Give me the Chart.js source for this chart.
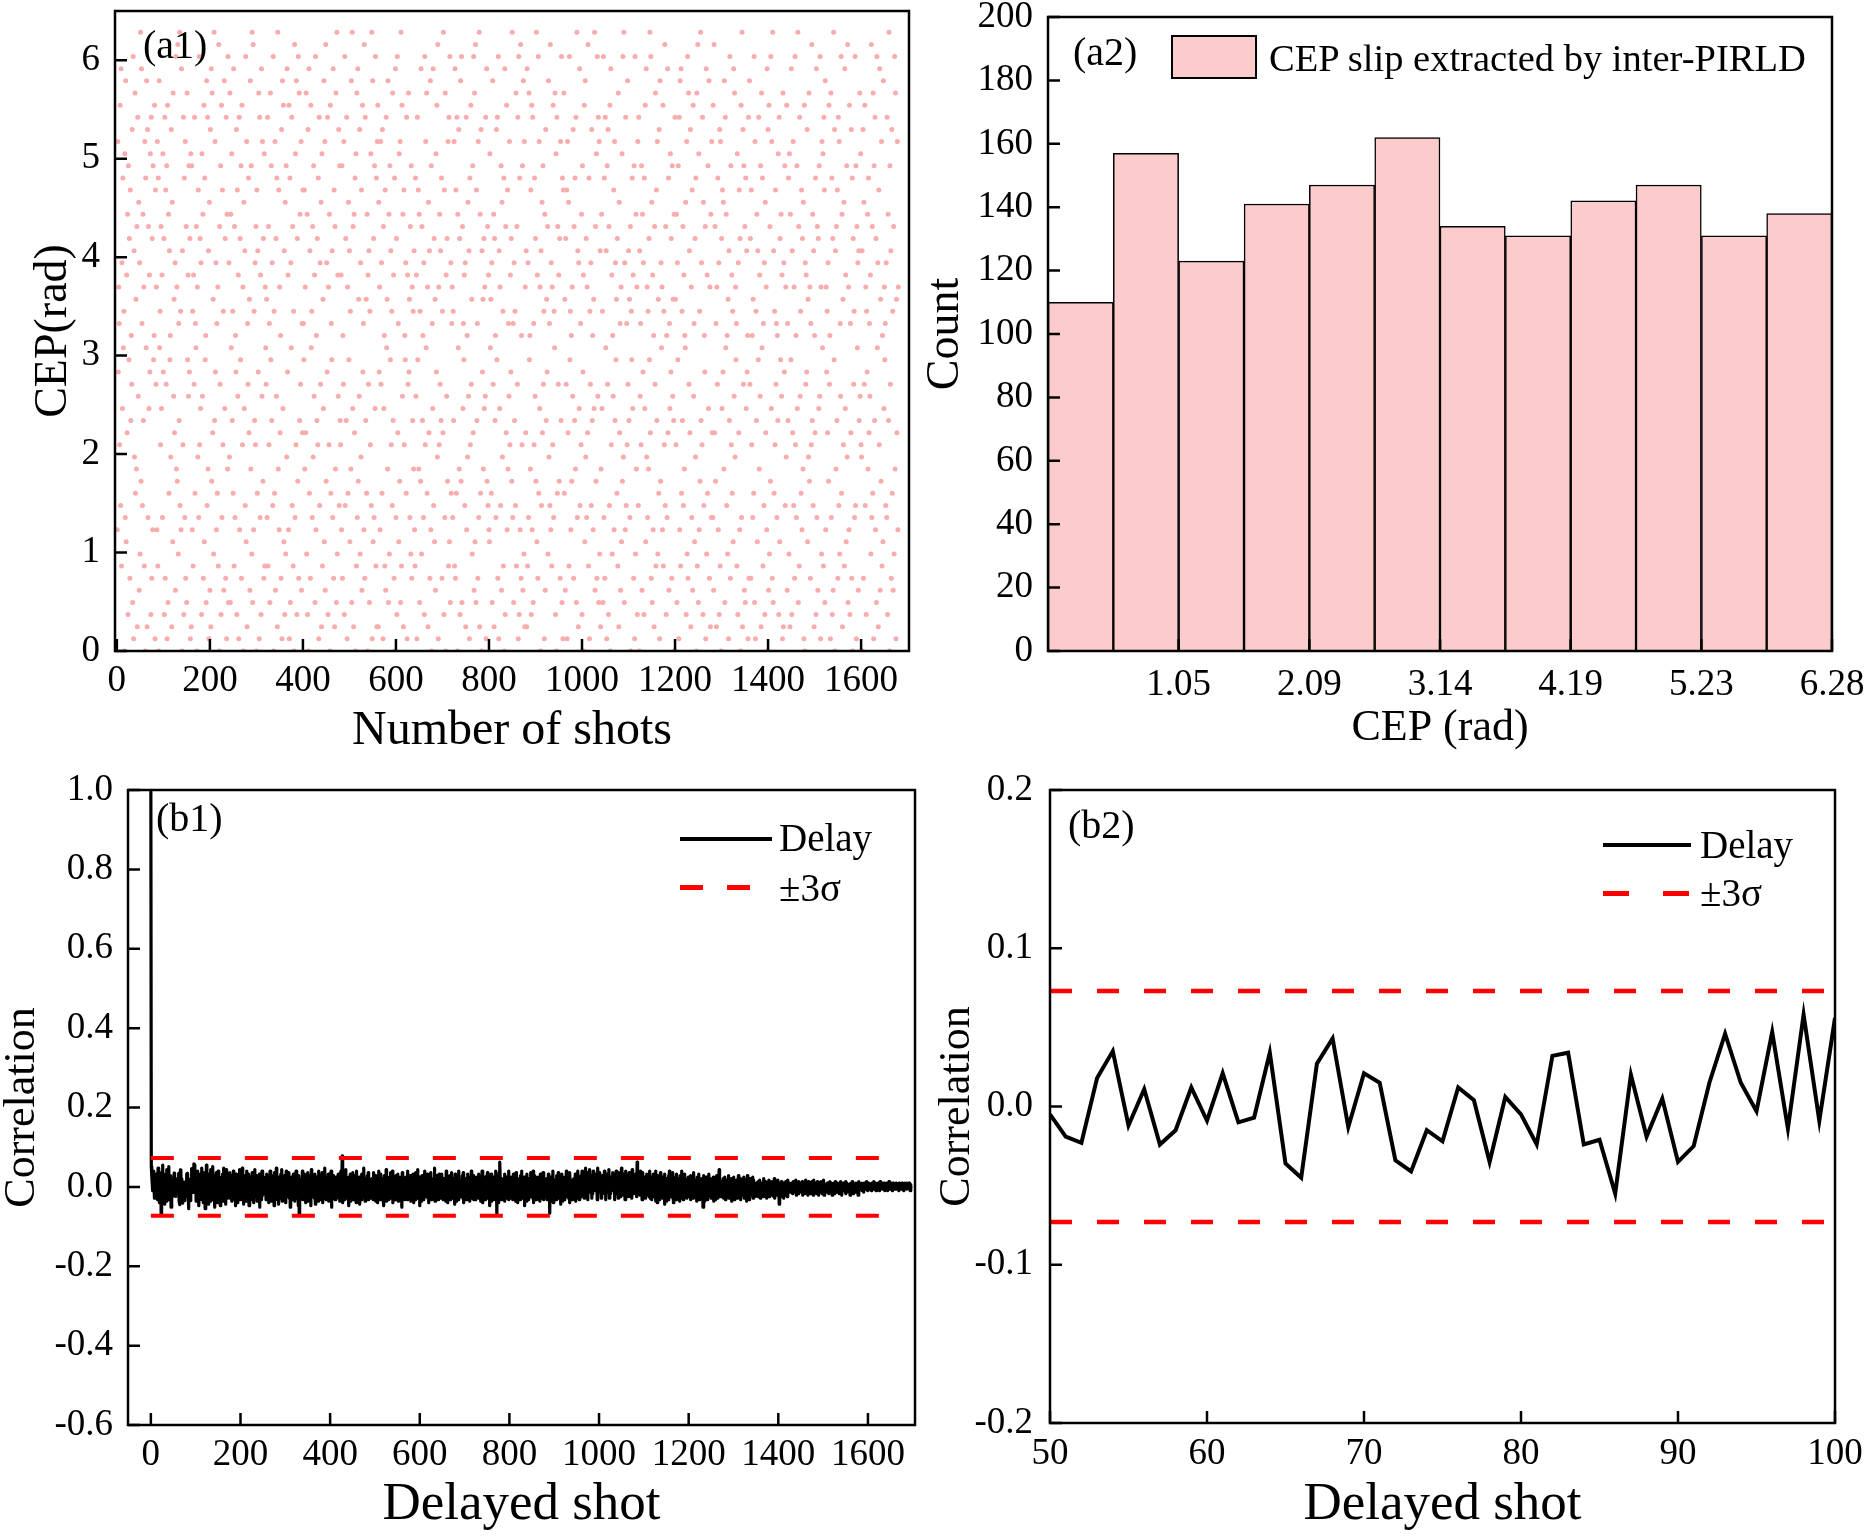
<!DOCTYPE html>
<html>
<head>
<meta charset="utf-8">
<title>CEP slip and correlation</title>
<script src="https://cdn.jsdelivr.net/npm/chart.js@4.4.1/dist/chart.umd.min.js"></script>
<style>
  html, body { margin: 0; padding: 0; background: #fff; }
  #page { position: relative; width: 1867px; height: 1537px; overflow: hidden;
          font-family: "Liberation Serif", "Times New Roman", serif; color: #000; }
  #page canvas { position: absolute; }
  .txt { position: absolute; line-height: 1; white-space: nowrap; }
  .panel { font-size: 40px; }
  .leg { font-size: 39px; }
  .seg { position: absolute; }
</style>
</head>
<body>
<div id="page">
  <canvas id="cA1" width="933" height="770" style="left:0;top:0;width:933px;height:770px"></canvas>
  <canvas id="cA2" width="987" height="770" style="left:880px;top:0;width:987px;height:770px"></canvas>
  <canvas id="cB1" width="933" height="767" style="left:0;top:770px;width:933px;height:767px"></canvas>
  <canvas id="cB2" width="987" height="767" style="left:880px;top:770px;width:987px;height:767px"></canvas>

  <div class="txt panel" style="left:143px;top:25px">(a1)</div>
  <div class="txt panel" style="left:1073px;top:32px">(a2)</div>
  <div class="txt panel" style="left:156px;top:798px">(b1)</div>
  <div class="txt panel" style="left:1068px;top:805px">(b2)</div>

  <!-- a2 legend -->
  <div class="seg" style="left:1171px;top:35px;width:86px;height:44px;box-sizing:border-box;border:2px solid #000;background:#fccccc"></div>
  <div class="txt" style="left:1269px;top:39px;font-size:38.5px">CEP slip extracted by inter-PIRLD</div>

  <!-- b1 legend -->
  <div class="seg" style="left:680px;top:837px;width:92px;height:4px;background:#000"></div>
  <div class="txt leg" style="left:779px;top:818px">Delay</div>
  <div class="seg" style="left:680px;top:885px;width:23px;height:4.5px;background:#f00"></div>
  <div class="seg" style="left:727px;top:885px;width:23px;height:4.5px;background:#f00"></div>
  <div class="txt leg" style="left:779px;top:868px">±3σ</div>

  <!-- b2 legend -->
  <div class="seg" style="left:1603px;top:843px;width:88px;height:4px;background:#000"></div>
  <div class="txt leg" style="left:1700px;top:825px">Delay</div>
  <div class="seg" style="left:1603px;top:891px;width:26px;height:4.5px;background:#f00"></div>
  <div class="seg" style="left:1663px;top:891px;width:26px;height:4.5px;background:#f00"></div>
  <div class="txt leg" style="left:1700px;top:873px">±3σ</div>
</div>

<script>
// letter codes: A..Z = 0..25, a..z = 26..51
const LETTERS = 'ABCDEFGHIJKLMNOPQRSTUVWXYZabcdefghijklmnopqrstuvwxyz';

// (a1) CEP of each shot, one letter per shot, 0.1232 rad per letter step
const cepStep = 0.1232;
const cepCodes = [
  'KqXebRtMwHgUnZcApLvJfSkDoYiGmTaWrExBhQuNdPjCsVlFgIzOwbMkTeHqAnZvCrLjUfXpDsGiKoYa',
  'tBmWeKqHnAvZcRjUfLpXiDsGmWoBtEkNhYaQrClJuVdSgFxPeOyIbTzMcKwAhRsDnLqGjEuYfVoXiBpC',
  'oKcHfWsNbZjAeQmLxRiUgDpVkGtJnYaEvMsPhBlFrCwOuSdIzTqXgKbNeHyAjWoDtLmRcFvUiGsBkPxE',
  'gQuEkZpTcNwHjLaXrDmVfBsKiYoGtReAlUhMxJqCbWnSdFvPoIzEyKcTgRjAmNhXuBsLfDwVqOiGpHeZ',
  'WdLsHjRbEuYoTgMxAcNqFiVnCzPmKeSaGrBvUtJhDlIoQwXfKtBnEgZsMjHcAyLpRvDiOxGuTkWqFbSm',
  'bYmPeSuIkDrAwNhGtZcLjQoVfExKaTiRnBsMgWlCpHdUvJqFyOgXsDeRkAtNbYhLwGmCjPuEzIfVrMoT',
  'RfKoGaWqDxMiTsBeNlYhJcPvEzUjCkSnApHuLwOdVrIgQmFtXbKyGsTdNkAfWhEcRpMzBvJiLoUxHnCq',
  'tClXeKqWgNrBjUaHmFsZdPvEkIoYhRcMuTfGnAwLiDxSbJpOqEzHtVkCmRaYgNsBfWuXdLjIoGeTcPhK',
  'HnVfBsYmPkEcOwIjTaLgDxRqZuNeClShGvKoAbUwMiJdFpXtQyBeRkWhTnGcSzDmLuAfViOqHsJxEgNb',
  'eLcTqHwGmNsAkZrPiDvOxEjUbYfMgCsKaQlVhBnRtWdIoSxFuJyEmTbGqLzCkNrAhXdPiUeVsBwOjMfK',
  'JpZdNgEvWkCiTaLrYsGxBhUeMoFlQcHnAwDjStKmPbVqRfXiOzLbEgTcMuHjWsBxDnKyGaRoFvIqCeSh',
  'CwHgLuYaPmDtKsEbRnViOzJfGxNqUeAhMlSoWcBkFrTdXjIvQbMyKgHeRtLcZuDpAsNjWfOiGqTxEnBm',
  'uNdFiWmBqSlHxYcKaOeVrGjTnPsEzLhCgUwMbRkDoXfAtJvQiLeSyHnBcWgMrTaKdUzFjOpGxVsEqIhC',
  'PkUcExLnGsZhBoWrDjMtAwRfIaVmKqTgYdNiHuClSbFeJpOxQzEgKsMbRvWhTdLjAcYnUfGoBxIkPeDq',
  'MsAhVbRoFkXgDnUtJwQeLcPiYzSxGlEfKaCjWuHmTqIdNrBvOgZeKtHcRyMjDaLwSnFbUpXiGoVdTkAs',
  'dRkEgYoBsKvHwNcTjMfPaZlDqIxGuWhSrCeLmFtVbJiQnAuHyEpKcOzTgRsDlMaXjBwIfNoUvGeCkLqS',
  'LtFySjObCeWnKgDrHqAiUmXlPvEsZkMaIdBhTxGoRfNcJwVuQeYbHpDgSmKiAtLzCrWoFjEnUhXaBsGv',
  'WiGmRaLdNxEqBcTkJhYsPfVoCuZnHbMgDlSeKwArFtIjOxUqGzEhNcRmWbLaTpDsJiYkVfBuCgXoMeQt',
  'FbTnIpCkYwDhSqMeGxRaLoUzEjHsVcNmKiPlBtAgWfXrJdQuOeGbRyTkMhCaSnDwLjFiUoVxBeIqZpHs',
  'mEvKeXcSgOtWaBuLnDiFzYrAhPjTmGsMqIbVxNkCdRlHwUfJoQyEeKtDbSrGnAiWcLxMoBjZgFhTuVpR',
  'QhArGlWtMeDcXkPnSbVfIyLjNuBoTsKiExZgCmRwFdOqHaJvUeYbMgLsDkTzAoWhGrNcFjIxPuBdSqKe'
];
const a1XTicks = [0, 200, 400, 600, 800, 1000, 1200, 1400, 1600];
const a1YTicks = [0, 1, 2, 3, 4, 5, 6];

// (a2) histogram, 12 bins of pi/6
const binCenters = [0.262, 0.785, 1.309, 1.833, 2.356, 2.880, 3.403, 3.927, 4.451, 4.974, 5.498, 6.021];
const binCounts = [110, 157, 123, 141, 147, 162, 134, 131, 142, 147, 131, 138];
const a2TickValues = [1.047, 2.094, 3.142, 4.189, 5.236, 6.283];
const a2TickLabels = ['1.05', '2.09', '3.14', '4.19', '5.23', '6.28'];
const a2YTicks = [0, 20, 40, 60, 80, 100, 120, 140, 160, 180, 200];

// (b2) correlation for delays 50..100
const b2Start = 50;
const b2Corr = [-0.005, -0.019, -0.023, 0.018, 0.035, -0.012, 0.011, -0.024, -0.015, 0.012,
  -0.009, 0.021, -0.010, -0.007, 0.034, -0.036, -0.045, 0.027, 0.043, -0.013,
  0.021, 0.015, -0.034, -0.041, -0.015, -0.022, 0.012, 0.004, -0.035, 0.006,
  -0.005, -0.024, 0.032, 0.034, -0.024, -0.021, -0.055, 0.020, -0.019, 0.005,
  -0.035, -0.025, 0.015, 0.046, 0.015, -0.003, 0.047, -0.014, 0.058, -0.009, 0.056];
const b2XTicks = [50, 60, 70, 80, 90, 100];
const b2YTicks = [-0.2, -0.1, 0, 0.1, 0.2];

// (b1) correlation, delay 0 is 1.0; other delays as letter codes around zero
const corrZero = 1.0;
const corrStep = 0.0038;
const corrMid = 25.5;
const corrEarlyCodes = 'nhcXkaeSgbWiTbRmYaPjUdHfVoXbSgOiWcQlZeTnRaYhMdU';
const corrLateCodes = [
  'WgQbXkSeNhZiTcRmYaPjUdLfVoXbSgOiWcQlZeTnRaYhMdUjSbPkXfVeNcZgRiQmTaWdOlYbShUeXj',
  'SdYhQbWkRfTaNiXcPgZeUlRbVjSmYdOhTaWfQkXcSiNbZgUeRjVaPdYlTcXhQbSfWiMeZaRkUdYgVb',
  'XeRiTaWgPcYkSbQhUfZdNjVaRmXcTgOeWbSiYlQdUaRhXfPkZbTcVjSeMaYgRdWiUbQfXkSaTeNhHb',
  'WaYfSkRdXiTbPgZcUjQeVhRaNlXdTfWbSiOcYgUeQkZaRhTdXjPbVfSmWcRgYaUiQdXeTkMbZfShVa',
  'RdXgTbWiSaQeYkUcuPhVbRfXlTaSdWgNcYiQeUbZjRaXhTfPkVdSbYgOeWaRiUcXmTdQfZbShVjRaWe',
  'YbSfWdRjTaXhQcVgPeZkUbRiSaXfTdNhWbYlQcUgRaVeXjSbTkPdZfWaRhYcUiQeXbSgTdMjVaYfRc',
  'TgXaRkWdSbYhQfUcZiPaVeRjXbTlSdWgNaYcQhUfRbZkXdTaViSePgWbYjRcUaXfTmQdZhSbWeRiVa',
  'XcSiWaRfTdYbQkUgPeZaVhRcXjSbTfWdOiYaQgUcRkZeXaTbVhSjPdWfYcRaUiXgTbQeZkSdWaRhVf',
  'RaXgTcWiSdYbQfUkPaZeVgRbXhTjScWaNfYiQdUbRgZaXkTeHhScPjWqYbRfUaXdTiQcZgSeWbRkVa',
  'WdSgYaRiTbXcQjUePfZbVaRhXkScTdWgNeYbQiUaRfZcXjTbVdSkPaWhYeRcUgXbTaQiZdSfWjRbVe',
  'TaXfRcWiSbIdYgQaUkPcZeVbRhXaTjSdWfOcYiQbUeRgZaXkTdVhSaPjWbYeRcUfXaTiQgZbSkWdRa',
  'cWhTkYaViSfbmXbejRgdWlcaYhSeVkbcZiXfebRmaWgcjYcSeVhXaZkedRiWfYbclScVgXeajZaehR',
  'eYkVbXhSjaWfcTmZdXiUgbRkaYeWhcTjZbXfdSlaVgYcWiebTqXaZhcUkdYfRjaWbXgcSeZiaUhdTk',
  'SdYgRbWiTaXfQkUcPhZeVbRjXaTgScWdOiYbQfUaRhZkXcTeVbSjPgWaYdRiUcXfTbQhZaSkWeRcVi',
  'UaXeScWgTbYdRhVaZfSjXbTcWeQgYaUiRbXdTfScMhVaQbXgTeRcZiUdWaSfXbTgQcYeRaVhSbXdlT',
  'WbXdTaYfScVgRaZeUbXhSdWaTfQcYbUgRdXaVeSbZhTcWfRaYdUbXgSaVeTcQhZbWdRfXaUcYgSeTb',
  'XaUcYbTdWaVeSbZcUaXfTbWdYaScVbZeTaXcUdWbYaTfScVaZbUeXaOcWbYdTaVcSbZaUdXbTeWaYc',
  'XaWbYcVdZaWbXeUcYaVdZbWaXcYdUbZaVcWeXaYbUdZcWaVbXdYaUeZbWcXaVdYbUaZcWdXbVaYeUb',
  'YaWbXcZaVbYdWaXcUbZaYcVdXbWaZcYbVaXdWbUaZcYbXaVdWcYaZbXaUcWbYdXaVbZaWcYbXaUdWb',
  'ZaYbcXaZbWcaYbZdaXbcZaYbaXcZbaYdbZacXbaZcYbaXdbZacYaZbcXaYbZcaXbZdaYbcZaXbcZaY',
  'aZbcYaZbaXcbZaYbcaZbXacZbaYcZabZcaXbZa'
];
const b1XTicks = [0, 200, 400, 600, 800, 1000, 1200, 1400, 1600];
const b1YTicks = [-0.6, -0.4, -0.2, 0, 0.2, 0.4, 0.6, 0.8, 1.0];

// +/- 3 sigma level and span
const sigma3 = 0.073;
const b1SigmaSpan = [0, 1660];
const b2SigmaSpan = [50, 100];

// ---- decode ----
const cepValues = cepCodes.join('').split('').map(ch => LETTERS.indexOf(ch) * cepStep);
const decodeCorr = s => s.split('').map(ch => (LETTERS.indexOf(ch) - corrMid) * corrStep);
const b1Corr = [corrZero, ...decodeCorr(corrEarlyCodes), ...b2Corr, ...decodeCorr(corrLateCodes.join(''))];

const FONT = '"Liberation Serif", "Times New Roman", serif';
Chart.defaults.font.family = FONT;
Chart.defaults.color = '#000';

// frame round the plot and inward tick marks
const framePlugin = {
  id: 'frame',
  afterDraw(chart) {
    const { ctx, chartArea: a, scales } = chart;
    ctx.save();
    ctx.strokeStyle = '#000';
    ctx.lineWidth = 2.5;
    ctx.strokeRect(a.left, a.top, a.right - a.left, a.bottom - a.top);
    ctx.beginPath();
    scales.x.ticks.forEach(t => {
      const px = scales.x.getPixelForValue(t.value);
      ctx.moveTo(px, a.bottom);
      ctx.lineTo(px, a.bottom - 12);
    });
    scales.y.ticks.forEach(t => {
      const py = scales.y.getPixelForValue(t.value);
      ctx.moveTo(a.left, py);
      ctx.lineTo(a.left + 12, py);
    });
    ctx.stroke();
    ctx.restore();
  }
};

function axis(c, isX, size) {
  return {
    type: 'linear',
    min: c.min,
    max: c.max,
    offset: false,
    grid: { display: false, drawTicks: false },
    border: { display: false },
    afterBuildTicks: s => { s.ticks = c.ticks.map(v => ({ value: v })); },
    afterFit: s => {
      if (isX) { s.height = size; s.paddingLeft = 0; s.paddingRight = 0; }
      else { s.width = size; s.paddingTop = 0; s.paddingBottom = 0; }
    },
    ticks: { padding: c.pad, font: { family: FONT, size: 37 }, color: '#000', callback: c.fmt, maxRotation: 0, autoSkip: false },
    title: {
      display: true, text: c.title, color: '#000',
      font: { family: FONT, size: c.tsize, lineHeight: 1 },
      padding: isX ? { top: 0, bottom: c.tpad } : { top: c.tpad, bottom: 0 }
    }
  };
}

function options(W, H, box, x, y) {
  return {
    responsive: false,
    animation: false,
    events: [],
    layout: { padding: { left: 0, top: box.t, right: W - box.r, bottom: 0 } },
    plugins: { legend: { display: false }, tooltip: { enabled: false } },
    scales: { x: axis(x, true, H - box.b), y: axis(y, false, box.l) }
  };
}

// (a1)
new Chart(document.getElementById('cA1'), {
  type: 'scatter',
  data: {
    datasets: [{
      data: cepValues.map((v, i) => ({ x: i + 1, y: v })),
      pointRadius: 2.5,
      pointBorderWidth: 0,
      pointBackgroundColor: 'rgb(248,172,172)'
    }]
  },
  options: options(933, 770, { l: 115, t: 11, r: 909, b: 651 },
    { min: -4, max: 1703, ticks: a1XTicks, pad: 8, fmt: v => String(v), title: 'Number of shots', tsize: 48, tpad: 15 },
    { min: 0, max: 6.5, ticks: a1YTicks, pad: 15, fmt: v => String(v), title: 'CEP(rad)', tsize: 46, tpad: 31 }),
  plugins: [framePlugin]
});

// (a2)
new Chart(document.getElementById('cA2'), {
  type: 'bar',
  data: {
    datasets: [{
      data: binCenters.map((c, i) => ({ x: c, y: binCounts[i] })),
      backgroundColor: '#fccccc',
      borderColor: '#000',
      borderWidth: 1.5,
      barPercentage: 1,
      categoryPercentage: 1
    }]
  },
  options: options(987, 770, { l: 168, t: 17, r: 952, b: 651 },
    { min: 0, max: 6.283, ticks: a2TickValues, pad: 12, fmt: (v, i) => a2TickLabels[i], title: 'CEP (rad)', tsize: 44, tpad: 20 },
    { min: 0, max: 200, ticks: a2YTicks, pad: 15, fmt: v => String(v), title: 'Count', tsize: 46, tpad: 43 }),
  plugins: [framePlugin]
});

function sigmaSets(span, width, dash) {
  return [sigma3, -sigma3].map(lv => ({
    data: span.map(x => ({ x, y: lv })),
    borderColor: '#f00',
    borderWidth: width,
    borderDash: dash,
    pointRadius: 0,
    order: 0
  }));
}

// (b1)
new Chart(document.getElementById('cB1'), {
  type: 'line',
  data: {
    datasets: [{
      data: b1Corr.map((v, d) => ({ x: d, y: v })),
      borderColor: '#000',
      borderWidth: 3.2,
      borderJoinStyle: 'round',
      pointRadius: 0,
      tension: 0,
      order: 1
    }, ...sigmaSets(b1SigmaSpan, 4, [23, 24])]
  },
  options: options(933, 767, { l: 128, t: 20, r: 915, b: 655 },
    { min: -51, max: 1705, ticks: b1XTicks, pad: 8, fmt: v => String(v), title: 'Delayed shot', tsize: 53, tpad: 5.5 },
    { min: -0.6, max: 1.0, ticks: b1YTicks, pad: 15, fmt: v => v.toFixed(1), title: 'Correlation', tsize: 44, tpad: 0 }),
  plugins: [framePlugin]
});

// (b2)
new Chart(document.getElementById('cB2'), {
  type: 'line',
  data: {
    datasets: [{
      data: b2Corr.map((v, i) => ({ x: b2Start + i, y: v })),
      borderColor: '#000',
      borderWidth: 4,
      borderJoinStyle: 'miter',
      pointRadius: 0,
      tension: 0,
      order: 1
    }, ...sigmaSets(b2SigmaSpan, 4.5, [22, 25])]
  },
  options: options(987, 767, { l: 170, t: 20, r: 955, b: 653 },
    { min: 50, max: 100, ticks: b2XTicks, pad: 9, fmt: v => String(v), title: 'Delayed shot', tsize: 53, tpad: 5.5 },
    { min: -0.2, max: 0.2, ticks: b2YTicks, pad: 17, fmt: v => v.toFixed(1), title: 'Correlation', tsize: 44, tpad: 55 }),
  plugins: [framePlugin]
});
</script>
</body>
</html>
